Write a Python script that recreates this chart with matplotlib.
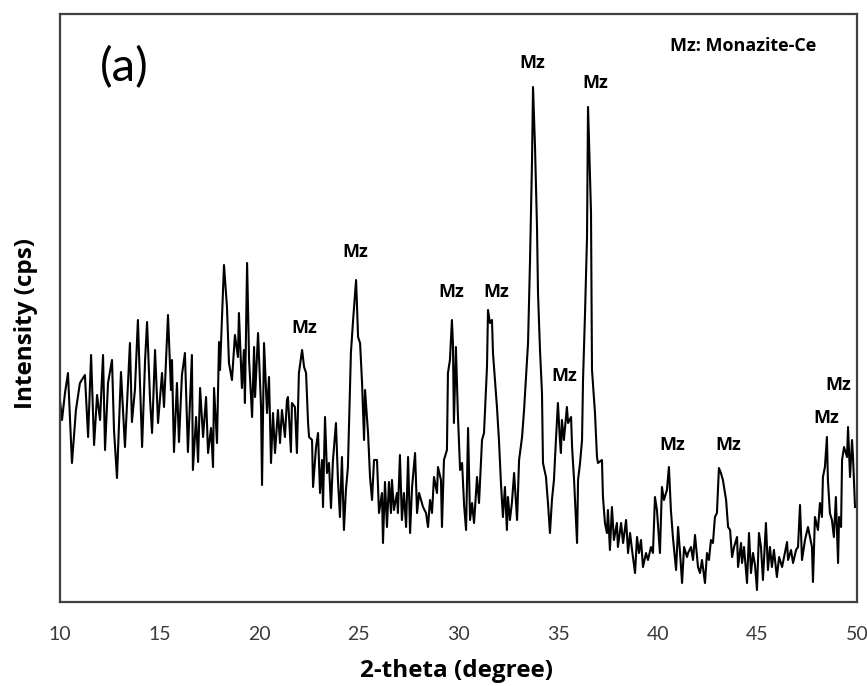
import matplotlib
matplotlib.use("Agg")
import matplotlib.pyplot as plt

plt.rcParams["font.family"] = ["Lato", "DejaVu Sans"]
BOLD_FONT = ["Open Sans", "DejaVu Sans"]

# XRD pattern (2-theta in degrees, intensity in arbitrary cps units)
two_theta = [
    10.00, 10.10, 10.25, 10.40, 10.60, 10.80, 11.00, 11.25, 11.41, 11.56,
    11.71, 11.86, 12.01, 12.16, 12.26, 12.41, 12.61, 12.71, 12.86, 13.06,
    13.26, 13.51, 13.61, 13.76, 13.91, 14.12, 14.27, 14.37, 14.52, 14.62,
    14.77, 14.92, 15.12, 15.22, 15.42, 15.57, 15.62, 15.72, 15.87, 15.97,
    16.12, 16.27, 16.42, 16.62, 16.67, 16.83, 16.93, 17.03, 17.18, 17.33,
    17.43, 17.58, 17.68, 17.73, 17.88, 17.98, 18.03, 18.23, 18.38, 18.48,
    18.63, 18.78, 18.93, 18.98, 19.13, 19.23, 19.28, 19.39, 19.49, 19.64,
    19.74, 19.79, 19.94, 20.09, 20.14, 20.24, 20.39, 20.49, 20.59, 20.69,
    20.79, 20.94, 21.04, 21.14, 21.29, 21.39, 21.44, 21.59, 21.64, 21.79,
    21.89, 21.99, 22.15, 22.25, 22.35, 22.45, 22.50, 22.65, 22.70, 22.85,
    22.95, 23.05, 23.15, 23.20, 23.30, 23.40, 23.50, 23.60, 23.70, 23.85,
    23.95, 24.05, 24.15, 24.25, 24.35, 24.45, 24.60, 24.71, 24.86, 24.96,
    25.06, 25.16, 25.26, 25.31, 25.46, 25.56, 25.66, 25.76, 25.91, 26.01,
    26.16, 26.21, 26.31, 26.41, 26.51, 26.61, 26.66, 26.76, 26.91, 26.96,
    27.06, 27.16, 27.26, 27.37, 27.47, 27.57, 27.67, 27.82, 27.92, 28.02,
    28.12, 28.22, 28.37, 28.47, 28.57, 28.67, 28.77, 28.92, 28.97, 29.12,
    29.17, 29.27, 29.42, 29.47, 29.57, 29.67, 29.72, 29.77, 29.87, 29.97,
    30.08, 30.18, 30.28, 30.38, 30.48, 30.58, 30.68, 30.78, 30.93, 31.03,
    31.18, 31.28, 31.43, 31.48, 31.58, 31.68, 31.73, 31.83, 31.93, 32.03,
    32.13, 32.23, 32.33, 32.43, 32.48, 32.58, 32.68, 32.79, 32.94, 33.04,
    33.19, 33.29, 33.44, 33.49, 33.59, 33.69, 33.74, 33.84, 33.94, 33.99,
    34.09, 34.19, 34.24, 34.39, 34.49, 34.59, 34.69, 34.79, 34.89, 34.99,
    35.09, 35.14, 35.19, 35.29, 35.44, 35.50, 35.65, 35.70, 35.80, 35.95,
    36.00, 36.10, 36.20, 36.25, 36.35, 36.45, 36.50, 36.55, 36.65, 36.70,
    36.85, 36.95, 37.00, 37.20, 37.25, 37.35, 37.45, 37.50, 37.60, 37.70,
    37.80, 37.95, 38.00, 38.16, 38.26, 38.41, 38.51, 38.61, 38.71, 38.86,
    38.96, 39.06, 39.16, 39.26, 39.41, 39.51, 39.66, 39.76, 39.86, 39.96,
    40.11, 40.21, 40.31, 40.46, 40.56, 40.66, 40.76, 40.92, 41.02, 41.12,
    41.22, 41.32, 41.47, 41.52, 41.67, 41.77, 41.87, 42.02, 42.12, 42.22,
    42.37, 42.47, 42.57, 42.67, 42.77, 42.87, 42.97, 43.07, 43.17, 43.27,
    43.43, 43.53, 43.63, 43.73, 43.83, 43.98, 44.03, 44.18, 44.23, 44.33,
    44.48, 44.58, 44.68, 44.78, 44.88, 44.98, 45.08, 45.18, 45.28, 45.43,
    45.53, 45.63, 45.73, 45.83, 45.98, 46.09, 46.24, 46.34, 46.49, 46.54,
    46.69, 46.79, 46.94, 47.04, 47.14, 47.24, 47.39, 47.54, 47.64, 47.74,
    47.79, 47.89, 48.04, 48.14, 48.24, 48.29, 48.39, 48.49, 48.54, 48.64,
    48.74, 48.84, 48.94, 49.05, 49.10, 49.20, 49.25, 49.35, 49.50, 49.55,
    49.65, 49.75, 49.80, 49.90,
]
intensity = [
    202, 182, 209, 229, 139, 192, 219, 227, 165, 247,
    157, 207, 182, 247, 152, 219, 242, 172, 124, 230,
    155, 259, 180, 212, 282, 155, 242, 280, 202, 169,
    252, 179, 229, 195, 287, 212, 242, 150, 219, 160,
    227, 249, 150, 247, 132, 185, 140, 214, 165, 205,
    149, 174, 135, 214, 159, 260, 232, 337, 295, 239,
    222, 267, 245, 289, 214, 252, 199, 339, 242, 185,
    255, 205, 269, 195, 117, 259, 189, 225, 139, 189,
    149, 192, 159, 192, 165, 202, 205, 150, 199, 195,
    149, 229, 252, 235, 229, 179, 165, 162, 115, 155,
    169, 109, 142, 95, 185, 129, 139, 94, 142, 179,
    122, 85, 145, 72, 112, 135, 249, 282, 322, 265,
    259, 219, 162, 212, 169, 125, 102, 142, 142, 89,
    109, 59, 120, 75, 120, 89, 122, 92, 109, 89,
    147, 82, 109, 75, 145, 69, 115, 149, 89, 109,
    102, 95, 89, 75, 102, 89, 125, 109, 135, 122,
    75, 142, 152, 229, 242, 282, 259, 179, 255, 187,
    132, 139, 97, 72, 174, 82, 99, 79, 125, 99,
    162, 169, 235, 292, 279, 282, 249, 222, 195, 162,
    119, 85, 115, 72, 105, 82, 99, 129, 82, 142,
    165, 192, 242, 259, 342, 442, 515, 455, 375, 309,
    252, 209, 139, 125, 99, 69, 102, 122, 162, 199,
    162, 149, 182, 162, 195, 179, 185, 155, 122, 59,
    122, 139, 162, 222, 289, 365, 495, 462, 389, 232,
    189, 145, 139, 142, 105, 79, 69, 92, 52, 95,
    62, 79, 55, 79, 59, 82, 49, 69, 52, 29,
    65, 49, 62, 35, 49, 42, 55, 49, 105, 92,
    49, 115, 102, 112, 135, 92, 65, 32, 75, 49,
    19, 55, 45, 49, 55, 42, 67, 35, 29, 42,
    19, 49, 42, 62, 59, 85, 89, 134, 129, 122,
    102, 75, 72, 45, 55, 65, 35, 59, 39, 55,
    19, 69, 29, 49, 37, 12, 69, 55, 22, 79,
    32, 55, 35, 52, 25, 45, 35, 45, 60, 42,
    52, 39, 52, 55, 97, 42, 62, 75, 65, 55,
    20, 85, 72, 99, 85, 125, 135, 165, 122, 89,
    82, 65, 105, 39, 85, 75, 142, 155, 145, 175,
    125, 162, 145, 95,
]

# Monazite reflections: label anchor (2-theta, height)
mz_theta = [22.25, 24.81, 29.62, 31.88, 33.69, 35.29, 36.85, 40.71, 43.53, 48.44, 49.05]
mz_height = [274, 350, 310, 310, 539, 226, 519, 157, 157, 184, 217]

x_ticks = [10, 15, 20, 25, 30, 35, 40, 45, 50]

fig = plt.figure(figsize=(8.67, 6.86), dpi=100)
ax = fig.add_axes([60 / 867, 84 / 686, 797 / 867, 588 / 686])

ax.plot(two_theta, intensity, color="black", linewidth=1.5)

for t, h in zip(mz_theta, mz_height):
    ax.text(t, h, "Mz", ha="center", va="center", fontsize=13,
            fontweight="bold", family=BOLD_FONT)

ax.text(0.857, 0.946, "Mz: Monazite-Ce", transform=ax.transAxes,
        ha="center", va="center", fontsize=13, fontweight="bold", family=BOLD_FONT)
ax.text(0.080, 0.908, "(a)", transform=ax.transAxes,
        ha="center", va="center", fontsize=34)

ax.set_xlim(10, 50)
ax.set_ylim(0, 588)
ax.set_xticks(x_ticks)
ax.set_yticks([])
ax.tick_params(axis="x", length=0, pad=17, labelsize=14, labelcolor="#3a3a3a")

ax.set_xlabel("2-theta (degree)", fontsize=17.5, fontweight="bold",
              family=BOLD_FONT, va="center")
ax.xaxis.set_label_coords(0.497, -0.117)
ax.set_ylabel("Intensity (cps)", fontsize=17.5, fontweight="bold", family=BOLD_FONT)
ax.yaxis.set_label_coords(-0.028, 0.473)

for side in ["left", "right", "top", "bottom"]:
    ax.spines[side].set_color("#404040")
    ax.spines[side].set_linewidth(1.6)

fig.savefig("out.png", dpi=100)
